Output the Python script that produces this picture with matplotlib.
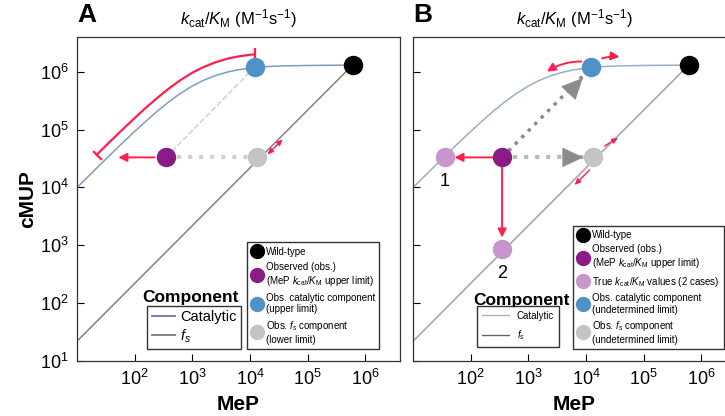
import numpy as np
import matplotlib
matplotlib.use("Agg")
import matplotlib.pyplot as plt
from matplotlib.lines import Line2D

plt.rcParams['font.family'] = ['Liberation Sans', 'DejaVu Sans']
plt.rcParams['mathtext.fontset'] = 'custom'
plt.rcParams['mathtext.rm'] = 'Liberation Sans'
plt.rcParams['mathtext.it'] = 'Liberation Sans:italic'
plt.rcParams['mathtext.bf'] = 'Liberation Sans:bold'

# values (MeP, cMUP)
wt = (6e5, 1.3e6)
obs = (350, 3.3e4)
cat_obs = (1.2e4, 1.2e6)
fs_obs = (1.3e4, 3.3e4)
true1 = (36, 3.3e4)
true2 = (350, 850)

cat_x = [10, 15, 25, 40, 60, 100, 150, 250, 400, 600, 1000, 1500, 2500, 4000, 6000,
         1e4, 1.5e4, 2.5e4, 4e4, 1e5, 6e5]
cat_y = [9.9e3, 1.48e4, 2.45e4, 3.88e4, 5.74e4, 9.29e4, 1.34e5, 2.10e5, 3.06e5, 4.11e5, 5.65e5,
         6.96e5, 8.55e5, 9.81e5, 1.07e6, 1.15e6, 1.20e6, 1.24e6, 1.26e6, 1.28e6, 1.30e6]
fs_x = [10, 6e5]
fs_y = [22, 1.3e6]
# red "upper limit" band in panel A
red_x = [22, 40, 60, 100, 150, 250, 400, 600, 1000, 1500, 2500, 4000, 6000, 1e4, 1.2e4]
red_y = [3.68e4, 6.6e4, 9.75e4, 1.58e5, 2.29e5, 3.56e5, 5.2e5, 6.98e5, 9.61e5, 1.18e6,
         1.45e6, 1.67e6, 1.82e6, 1.96e6, 1.99e6]

RED = '#ff1f4f'
C_WT = 'black'
C_OBS = '#8b1c87'
C_TRUE = '#c796cd'
C_CAT = '#4e92c8'
C_FS = '#c4c4c4'
C_CATLINE = '#7d9cbf'
C_FSLINE = '#777777'

fig = plt.figure(figsize=(7.25, 4.16), dpi=100)
axA = fig.add_axes([0.1062, 0.1322, 0.4455, 0.779])
axB = fig.add_axes([0.5697, 0.1322, 0.4455, 0.779])

title = r'$k_{\rm cat}/K_{\rm M}$ (M$^{-1}$s$^{-1}$)'
ms = 13


def setup(ax, ylabels=True):
    ax.set_xscale('log')
    ax.set_yscale('log')
    ax.set_xlim(10, 10 ** 6.6)
    ax.set_ylim(10, 10 ** 6.6)
    ax.set_xticks([1e2, 1e3, 1e4, 1e5, 1e6])
    ax.set_yticks([1e1, 1e2, 1e3, 1e4, 1e5, 1e6])
    ax.minorticks_off()
    ax.tick_params(direction='in', length=5, width=0.8, labelsize=13, pad=6)
    if not ylabels:
        ax.set_yticklabels([])
    for s in ax.spines.values():
        s.set_linewidth(0.9)
        s.set_color('#333333')
    ax.set_xlabel('MeP', fontsize=15, fontweight='bold', labelpad=4)
    ax.set_title(title, fontsize=12, pad=9)


def arrow(ax, p0, p1, color=RED, style='-|>', rad=0.0, lw=1.4, hl=0.5, hw=0.25):
    ax.annotate('', xy=p1, xytext=p0,
                arrowprops=dict(arrowstyle='%s,head_length=%s,head_width=%s' % (style, hl, hw),
                                color=color, lw=lw, shrinkA=0, shrinkB=0,
                                connectionstyle='arc3,rad=%s' % rad))


# ---------------- panel A ----------------
ax = axA
setup(ax)
ax.set_ylabel('cMUP', fontsize=15, fontweight='bold', labelpad=2)
ax.plot(cat_x, cat_y, color=C_CATLINE, lw=1.1, zorder=2)
ax.plot(fs_x, fs_y, color=C_FSLINE, lw=1.0, zorder=2)
ax.plot(red_x, red_y, color=RED, lw=1.6, zorder=3)
ax.plot(red_x[0], red_y[0], marker=(2, 0, 45), ms=9, mew=1.6, color=RED, zorder=3)
ax.plot(red_x[-1], red_y[-1], marker='|', ms=9, mew=1.6, color=RED, zorder=3)
ax.plot([obs[0], fs_obs[0]], [obs[1], fs_obs[1]], color='#d0d0d0', lw=3, ls=':', zorder=2)
ax.plot([obs[0], cat_obs[0]], [obs[1], cat_obs[1]], color='#c9d6cc', lw=1.1, ls='--', zorder=2)
arrow(ax, (220, obs[1]), (52, obs[1]))
arrow(ax, (2.0e4, 3.7e4), (3.7e4, 6.8e4), style='<|-|>', lw=1.0, hl=0.35, hw=0.15)
ax.plot(*wt, 'o', color=C_WT, ms=ms, zorder=5)
ax.plot(*obs, 'o', color=C_OBS, ms=ms, zorder=5)
ax.plot(*cat_obs, 'o', color=C_CAT, ms=ms, zorder=5)
ax.plot(*fs_obs, 'o', color=C_FS, ms=ms, zorder=5)
ax.text(0, 1.03, 'A', transform=ax.transAxes, fontsize=19, fontweight='bold', ha='left', va='bottom')

comp = [Line2D([], [], color='#6f72b0', lw=1.3), Line2D([], [], color=C_FSLINE, lw=1.3)]
legc = ax.legend(comp, ['Catalytic', '$f_s$'], loc='lower left', bbox_to_anchor=(0.218, 0.037),
                 fontsize=10.5, frameon=True, fancybox=False, edgecolor='black', handlelength=1.6,
                 handletextpad=0.35, borderpad=0.3, labelspacing=0.2, borderaxespad=0)
legc.get_frame().set_linewidth(1.0)
ax.add_artist(legc)
ax.text(0.35, 0.172, 'Component', transform=ax.transAxes, fontsize=12.5, fontweight='bold', ha='center', va='bottom')

mk = lambda c: Line2D([], [], ls='', marker='o', color=c, ms=10)
legm = ax.legend([mk(C_WT), mk(C_OBS), mk(C_CAT), mk(C_FS)],
                 ['Wild-type', 'Observed (obs.)\n(MeP $k_{\\rm cat}/K_{\\rm M}$ upper limit)',
                  'Obs. catalytic component\n(upper limit)', 'Obs. $f_s$ component\n(lower limit)'],
                 loc='lower left', bbox_to_anchor=(0.526, 0.037), fontsize=7, frameon=True,
                 fancybox=False, edgecolor='black', handletextpad=0.3, borderpad=0.45,
                 labelspacing=0.5, borderaxespad=0, handlelength=1.2)
legm.get_frame().set_linewidth(1.0)

# ---------------- panel B ----------------
ax = axB
setup(ax, ylabels=False)
ax.plot(cat_x, cat_y, color='#9aaec6', lw=1.1, zorder=2)
ax.plot(fs_x, fs_y, color='#a8a8a8', lw=1.2, zorder=2)
ax.plot([obs[0], fs_obs[0] * 0.7], [obs[1], fs_obs[1]], color='#b8b8c4', lw=3, ls=':', zorder=2)
ax.plot([obs[0], cat_obs[0] * 0.75], [obs[1], cat_obs[1] * 0.72], color='#8a8a8a', lw=2.5, ls=':', zorder=2)
arrow(ax, (6.0e3, obs[1]), (9.0e3, obs[1]), color='#8c8c8c', lw=0.1, hl=1.5, hw=0.7)
arrow(ax, (6.2e3, 5.4e5), (8.8e3, 7.8e5), color='#8c8c8c', lw=0.1, hl=1.5, hw=0.7)
arrow(ax, (obs[0] * 0.75, obs[1]), (true1[0] * 1.45, true1[1]))
arrow(ax, (obs[0], obs[1] * 0.7), (true2[0], true2[1] * 1.6))
arrow(ax, (8.3e3, 1.5e6), (2.1e3, 1.0e6), rad=0.15)
arrow(ax, (1.9e4, 1.7e6), (3.8e4, 1.8e6), rad=-0.1)
arrow(ax, (2.1e4, 5.2e4), (3.6e4, 7.2e4), lw=1.0, hl=0.35, hw=0.15)
arrow(ax, (1.15e4, 2.0e4), (6.3e3, 1.1e4), lw=1.0, hl=0.35, hw=0.15)
ax.plot(*wt, 'o', color=C_WT, ms=ms, zorder=5)
ax.plot(*obs, 'o', color=C_OBS, ms=ms, zorder=5)
ax.plot(*true1, 'o', color=C_TRUE, ms=ms, zorder=5)
ax.plot(*true2, 'o', color=C_TRUE, ms=ms, zorder=5)
ax.plot(*cat_obs, 'o', color=C_CAT, ms=ms, zorder=5)
ax.plot(*fs_obs, 'o', color=C_FS, ms=ms, zorder=5)
ax.annotate('1', true1, xytext=(0, -11), textcoords='offset points', fontsize=13, ha='center', va='top')
ax.annotate('2', true2, xytext=(0, -11), textcoords='offset points', fontsize=13, ha='center', va='top')
ax.text(0, 1.03, 'B', transform=ax.transAxes, fontsize=19, fontweight='bold', ha='left', va='bottom')

comp = [Line2D([], [], color='#b0b0b0', lw=1.0), Line2D([], [], color='#666666', lw=1.0)]
legc = ax.legend(comp, ['Catalytic', '$f_s$'], loc='lower left', bbox_to_anchor=(0.198, 0.043),
                 fontsize=7, frameon=True, fancybox=False, edgecolor='black', handlelength=2.8,
                 handletextpad=0.8, borderpad=0.5, labelspacing=0.8, borderaxespad=0)
legc.get_frame().set_linewidth(1.0)
ax.add_artist(legc)
ax.text(0.335, 0.165, 'Component', transform=ax.transAxes, fontsize=12.5, fontweight='bold', ha='center', va='bottom')

legm = ax.legend([mk(C_WT), mk(C_OBS), mk(C_TRUE), mk(C_CAT), mk(C_FS)],
                 ['Wild-type', 'Observed (obs.)\n(MeP $k_{\\rm cat}/K_{\\rm M}$ upper limit)',
                  'True $k_{\\rm cat}/K_{\\rm M}$ values (2 cases)',
                  'Obs. catalytic component\n(undetermined limit)',
                  'Obs. $f_s$ component\n(undetermined limit)'],
                 loc='lower left', bbox_to_anchor=(0.495, 0.037), fontsize=7, frameon=True,
                 fancybox=False, edgecolor='black', handletextpad=0.3, borderpad=0.45,
                 labelspacing=0.45, borderaxespad=0, handlelength=1.2)
legm.get_frame().set_linewidth(1.0)

fig.savefig('out.png', dpi=100)
